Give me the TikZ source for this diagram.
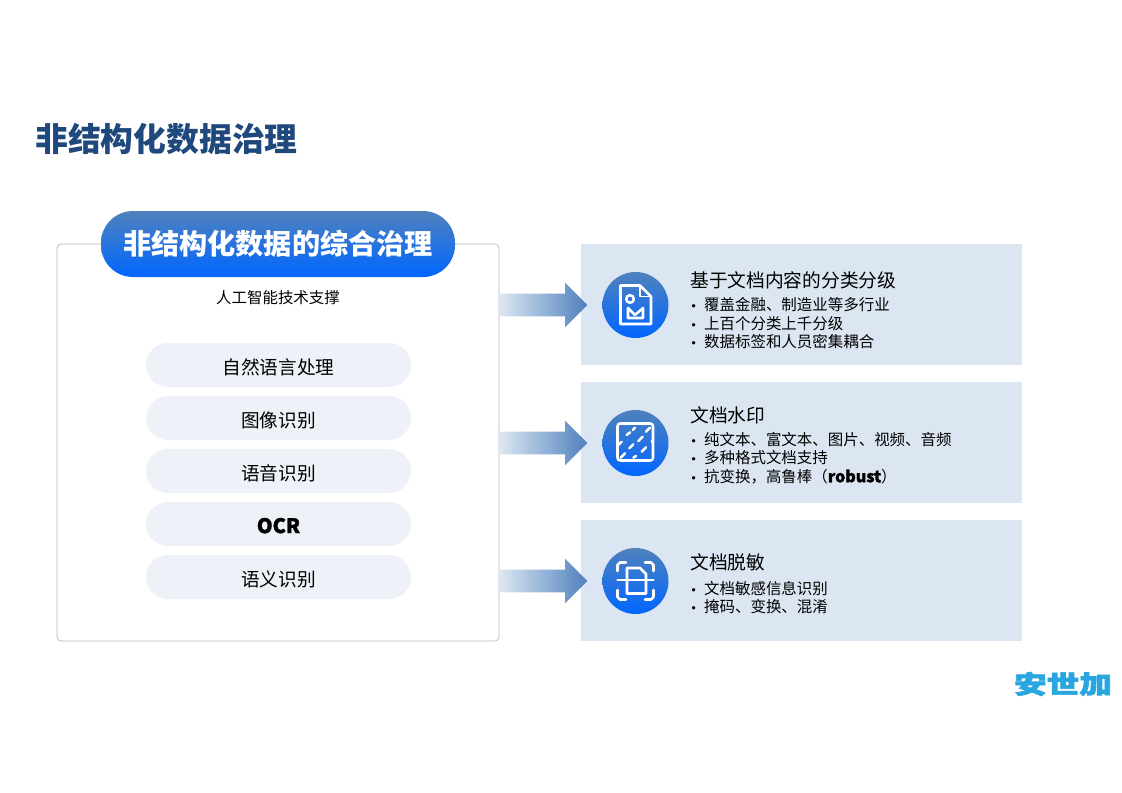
\documentclass[tikz,border=0pt]{standalone}
\usepackage{fontspec}
\setmainfont{Noto Sans CJK SC}
\newfontfamily\heavyf[BoldFeatures={FakeBold=1.6}]{Noto Sans CJK SC}
\newfontfamily\logof[BoldFeatures={FakeBold=2.5}]{Noto Sans CJK SC}
\newfontfamily\dotf{DejaVu Sans}
\usetikzlibrary{shapes.arrows}
\definecolor{titleblue}{HTML}{1F497D}
\definecolor{topblue}{HTML}{4F81BD}
\definecolor{botblue}{HTML}{0066FF}
\definecolor{panelline}{HTML}{B4B4C2}
\definecolor{pillfill}{HTML}{EEF2F8}
\definecolor{boxfill}{HTML}{DCE6F2}
\definecolor{logoblue}{HTML}{29A6DF}
\newcommand{\fsz}[1]{\fontsize{#1pt}{#1pt}\selectfont}
\newcommand{\blt}{\makebox[10.4pt][l]{\dotf\fsz{8.5}•}}
\tikzset{
  x=0.75pt,y=-0.75pt,
  panelbox/.style={draw=panelline,line width=0.5pt,fill=white,rounded corners=3pt,minimum width=331.5pt,minimum height=297.75pt,inner sep=0pt},
  headpill/.style={rounded corners=24pt,top color=topblue,bottom color=botblue,draw=none,minimum width=265.5pt,minimum height=49.5pt,inner sep=0pt,text=white,font=\fsz{21.1}\bfseries},
  itempill/.style={rounded corners=16.5pt,fill=pillfill,minimum width=198.75pt,minimum height=33pt,inner sep=0pt,font=\fsz{14},text height=15pt,text depth=1.4pt},
  infobox/.style={fill=boxfill,minimum width=330.75pt,minimum height=90.75pt,inner sep=0pt},
  iconcircle/.style={circle,top color=topblue,bottom color=botblue,draw=none,minimum size=49.5pt,inner sep=0pt},
  flowarrow/.style={single arrow,single arrow head extend=8.25pt,single arrow tip angle=90,minimum height=65.25pt,inner sep=0pt,anchor=tail,left color=boxfill,right color=topblue,draw=none},
  heading/.style={anchor=west,inner sep=0pt,font=\fsz{14.05}},
  bullet/.style={anchor=west,inner sep=0pt,font=\fsz{11.6}},
  iconline/.style={draw=white,line width=1.9pt,line cap=round,line join=round},
}
\newcommand{\shaftrule}{\rule{0pt}{16.5pt}}
\begin{document}
\begin{tikzpicture}
\useasboundingbox (0,0) rectangle (1122,793);
\node[anchor=west,inner sep=0pt,text=titleblue,font=\fsz{24.6}\bfseries] (title) at (35,139) {非结构化数据治理};
\node[panelbox] (panel) at (278,442.5) {};
\node[headpill] (head) at (278,244) {非结构化数据的综合治理};
\node[inner sep=0pt,font=\fsz{11.6}] (sub) at (278,298) {人工智能技术支撑};
\node[itempill] (p1) at (278.5,365) {自然语言处理};
\node[itempill] (p2) at (278.5,418) {图像识别};
\node[itempill] (p3) at (278.5,471) {语音识别};
\node[itempill] (p4) at (278.5,524) {\heavyf\fsz{15}\bfseries OCR};
\node[itempill] (p5) at (278.5,577) {语义识别};
\node[infobox] (b1) at (801.5,304.5) {};
\node[infobox] (b2) at (801.5,442.5) {};
\node[infobox] (b3) at (801.5,580.5) {};
\node[flowarrow] (a1) at (500,305) {\shaftrule};
\node[flowarrow] (a2) at (500,443) {\shaftrule};
\node[flowarrow] (a3) at (500,581) {\shaftrule};
\node[iconcircle] (c1) at (635.5,305) {};
\node[iconcircle] (c2) at (635.5,443) {};
\node[iconcircle] (c3) at (635.5,581) {};
% icon 1
\draw[iconline] (640,285.5) -- (620.5,285.5) -- (620.5,324) -- (651,324) -- (651,296.5) -- cycle;
\draw[iconline,line width=1.1pt] (640,286) -- (640,296.5) -- (651,296.5);
\draw[iconline] (630,299) circle (3.8);
\draw[iconline] (628,308) -- (635,315) -- (643,308) -- (643,318) -- (628,318) -- cycle;
% icon 2
\draw[iconline,rounded corners=2pt] (617.5,423.5) rectangle (653,460.5);
\foreach \ax/\ay/\bx/\by in {110/120/120/112,128/105/135/98,168/110/180/98,145/138/158/125,118/160/130/148,155/170/168/157,92/188/105/175,130/188/138/183,185/140/190/135,85/150/95/140}
  \draw[iconline] ({590+\ax/3},{395+\ay/3}) -- ({590+\bx/3},{395+\by/3});
% icon 3
\draw[iconline] (617.5,571) -- (617.5,565) -- (620,562.5) -- (626,562.5);
\draw[iconline] (645,562.5) -- (651,562.5) -- (653.5,565) -- (653.5,571);
\draw[iconline] (617.5,590) -- (617.5,597) -- (620,599.5) -- (626,599.5);
\draw[iconline] (645,599.5) -- (651,599.5) -- (653.5,597) -- (653.5,590);
\draw[iconline] (640,568) -- (627,568) -- (627,593.5) -- (646,593.5) -- (646,574) -- cycle;
\draw[iconline] (617.5,580) -- (653.5,580);
% texts
\node[heading] (h1) at (690,280) {基于文档内容的分类分级};
\node[bullet] (t11) at (690,305) {\blt 覆盖金融、制造业等多行业};
\node[bullet] (t12) at (690,323.5) {\blt 上百个分类上千分级};
\node[bullet] (t13) at (690,341.5) {\blt 数据标签和人员密集耦合};
\node[heading] (h2) at (690,415) {文档水印};
\node[bullet] (t21) at (690,439.5) {\blt 纯文本、富文本、图片、视频、音频};
\node[bullet] (t22) at (690,457.5) {\blt 多种格式文档支持};
\node[bullet] (t23) at (690,476.5) {\blt 抗变换，高鲁棒（{\heavyf\fsz{12}\bfseries robust}）};
\node[heading] (h3) at (690,562) {文档脱敏};
\node[bullet] (t31) at (690,588.5) {\blt 文档敏感信息识别};
\node[bullet] (t32) at (690,606.5) {\blt 掩码、变换、混淆};
\node[inner sep=0pt,text=logoblue,font=\logof\fsz{18.7}\bfseries,xscale=1.31,transform shape] (logo) at (1063,684) {安世加};
\end{tikzpicture}
\end{document}
